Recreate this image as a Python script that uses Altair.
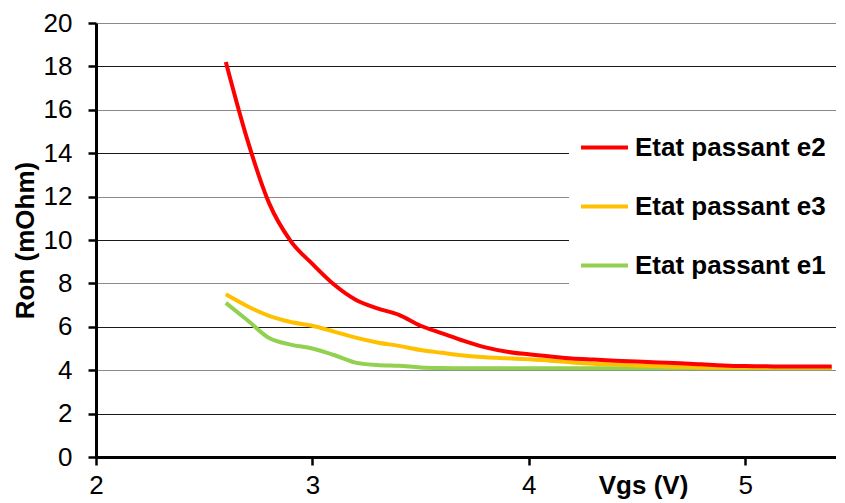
import altair as alt
import pandas as pd

vgs = [2.6, 2.7, 2.8, 2.9, 3.0, 3.1, 3.2, 3.3, 3.4, 3.5, 3.6, 3.7, 3.8, 3.9, 4.0,
       4.1, 4.2, 4.3, 4.4, 4.5, 4.6, 4.7, 4.8, 4.9, 5.0, 5.1, 5.2, 5.3, 5.4]
ron_e2 = [18.2, 14.6, 11.7, 9.95, 8.9, 7.95, 7.25, 6.85, 6.55, 6.05, 5.7, 5.35, 5.05, 4.85, 4.73,
          4.63, 4.54, 4.49, 4.44, 4.4, 4.36, 4.32, 4.27, 4.22, 4.19, 4.18, 4.17, 4.17, 4.17]
ron_e3 = [7.5, 6.95, 6.5, 6.22, 6.05, 5.78, 5.5, 5.28, 5.12, 4.93, 4.8, 4.68, 4.6, 4.55, 4.5,
          4.44, 4.36, 4.3, 4.26, 4.22, 4.18, 4.15, 4.13, 4.12, 4.12, 4.12, 4.12, 4.12, 4.12]
ron_e1 = [7.1, 6.3, 5.48, 5.18, 5.0, 4.7, 4.35, 4.24, 4.2, 4.13, 4.1, 4.09, 4.09, 4.09, 4.09,
          4.09, 4.09, 4.09, 4.09, 4.09, 4.09, 4.09, 4.09, 4.09, 4.09, 4.09, 4.09, 4.09, 4.09]

series_names = ["Etat passant e2", "Etat passant e3", "Etat passant e1"]
series_colors = ["#FF0000", "#FFC000", "#92D050"]
x_ticks = [2, 3, 4, 5]
y_ticks = [0, 2, 4, 6, 8, 10, 12, 14, 16, 18, 20]

rows = []
for name, vals in zip(series_names, [ron_e2, ron_e3, ron_e1]):
    for xv, yv in zip(vgs, vals):
        rows.append({"Vgs": xv, "Ron": yv, "serie": name})
df = pd.DataFrame(rows)

FONT = "Liberation Sans"

x_enc = alt.X("Vgs:Q", scale=alt.Scale(domain=[2, 5.42], nice=False, zero=False),
              axis=alt.Axis(values=x_ticks, title="Vgs (V)", grid=False,
                            labelFlush=False, labelPadding=7, tickSize=8,
                            titleX=547, titleY=15, titleBaseline="top", titleAlign="center",
                            titleAnchor="start"))
y_enc = alt.Y("Ron:Q", scale=alt.Scale(domain=[0, 20], nice=False),
              axis=alt.Axis(values=y_ticks, title="Ron (mOhm)", grid=True,
                            gridColor={"condition": {"test": "datum.value % 4 == 0", "value": "#8a8a8a"},
                                       "value": "#1a1a1a"},
                            gridWidth=1.2, labelPadding=16, tickSize=8,
                            titleAngle=270, titleX=-63, titleY=217, titleBaseline="alphabetic",
                            titleAlign="center", titleAnchor="start"))
color_enc = alt.Color("serie:N",
                      scale=alt.Scale(domain=series_names, range=series_colors),
                      legend=alt.Legend(title=None, orient="none", legendX=473, legendY=89,
                                        direction="vertical", fillColor="white", padding=10,
                                        symbolType="stroke", symbolSize=2209, symbolStrokeWidth=4,
                                        rowPadding=20, labelOffset=5, labelFont=FONT,
                                        labelFontSize=26, labelFontWeight="bold",
                                        labelColor="black", labelLimit=400))

layers = []
for name in ["Etat passant e1", "Etat passant e3", "Etat passant e2"]:
    layers.append(
        alt.Chart(df).transform_filter(alt.datum.serie == name)
        .mark_line(strokeWidth=4, interpolate="monotone")
        .encode(x=x_enc, y=y_enc, color=color_enc)
    )

chart = alt.layer(*layers).properties(
    width=740, height=434,
    background="white",
    autosize=alt.AutoSizeParams(type="none"),
    padding={"left": 88, "top": 15, "right": 0, "bottom": 46},
).configure_view(stroke=None).configure_axis(
    labelFont=FONT, labelFontSize=26, labelColor="black",
    titleFont=FONT, titleFontSize=26, titleFontWeight="bold", titleColor="black",
    domainColor="black", domainWidth=3, tickColor="black", tickWidth=2.5,
)

chart.save("out.html", embed_options={"renderer": "svg", "actions": False})
